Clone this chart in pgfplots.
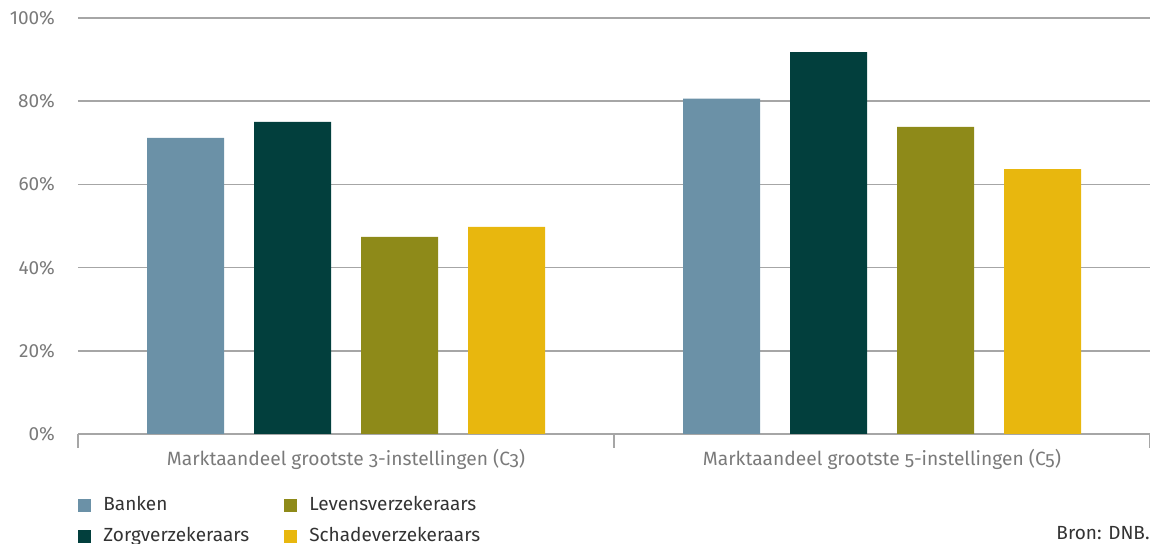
\documentclass[border=0pt]{standalone}
\usepackage{fontspec}
\setmainfont{Fira Sans}
\newfontfamily\oldnum{Fira Sans}[Numbers=OldStyle]
\usepackage{pgfplots}
\pgfplotsset{compat=1.18}

\definecolor{banken}{HTML}{6B91A7}
\definecolor{zorg}{HTML}{023F3D}
\definecolor{levens}{HTML}{8E8A19}
\definecolor{schade}{HTML}{E8B70E}
\definecolor{gridgray}{HTML}{A6A6A6}
\definecolor{tickgray}{HTML}{7A7A7A}
\definecolor{legtext}{HTML}{333333}

\begin{document}
\begin{tikzpicture}
\useasboundingbox (-39pt,-55pt) rectangle (536pt,217pt);
\begin{axis}[
    at={(0,0)}, anchor=south west,
    width=536pt, height=208pt, scale only axis,
    xmin=0, xmax=2, ymin=0, ymax=100,
    enlargelimits=false,
    axis line style={draw=none},
    ybar=15pt, bar width=38.5pt,
    ymajorgrids, grid style={gridgray, line width=0.75pt},
    ytick={0,20,...,100},
    ytick pos=left,
    ytick style={draw=none},
    yticklabel={\pgfmathprintnumber{\tick}\%},
    /pgf/number format/assume math mode=true,
    yticklabel style={font=\fontsize{9.5}{11}\selectfont, text=tickgray, xshift=-1pt},
    xtick={0,1,2}, xticklabels={,,},
    xtick pos=left, tick align=outside,
    major tick length=7pt,
    xtick style={gridgray, line width=0.75pt},
    extra x ticks={0.5,1.5},
    extra x tick labels={Marktaandeel grootste 3-instellingen (C3),
                         Marktaandeel grootste 5-instellingen (C5)},
    extra x tick style={major tick length=0pt,
        tick label style={font=\oldnum\fontsize{9.6}{11}\selectfont, text=tickgray, yshift=-4pt}},
    legend columns=2,
    transpose legend,
    legend cell align=left,
    legend image code/.code={\fill[#1] (0pt,-3.25pt) rectangle (6.5pt,3.25pt);},
    legend style={at={(axis description cs:0,0)}, anchor=north west,
        yshift=-29pt, draw=none, fill=none, inner sep=0pt,
        row sep=3pt,
        font=\fontsize{9.5}{11}\selectfont, text=legtext,
        /tikz/every odd column/.append style={column sep=4pt},
        /tikz/every even column/.append style={column sep=15.5pt}},
]
\addplot[draw=none, fill=banken] coordinates {(0.5,71.2) (1.5,80.6)};
\addlegendentry{Banken}
\addplot[draw=none, fill=zorg] coordinates {(0.5,75.0) (1.5,91.8)};
\addlegendentry{Zorgverzekeraars}
\addplot[draw=none, fill=levens] coordinates {(0.5,47.4) (1.5,73.8)};
\addlegendentry{Levensverzekeraars}
\addplot[draw=none, fill=schade] coordinates {(0.5,49.8) (1.5,63.7)};
\addlegendentry{Schadeverzekeraars}
\end{axis}
\node[anchor=base east, inner sep=0pt, text=legtext, font=\fontsize{9.5}{11}\selectfont] at (536pt,-53pt) {Bron: DNB.};
\end{tikzpicture}
\end{document}
